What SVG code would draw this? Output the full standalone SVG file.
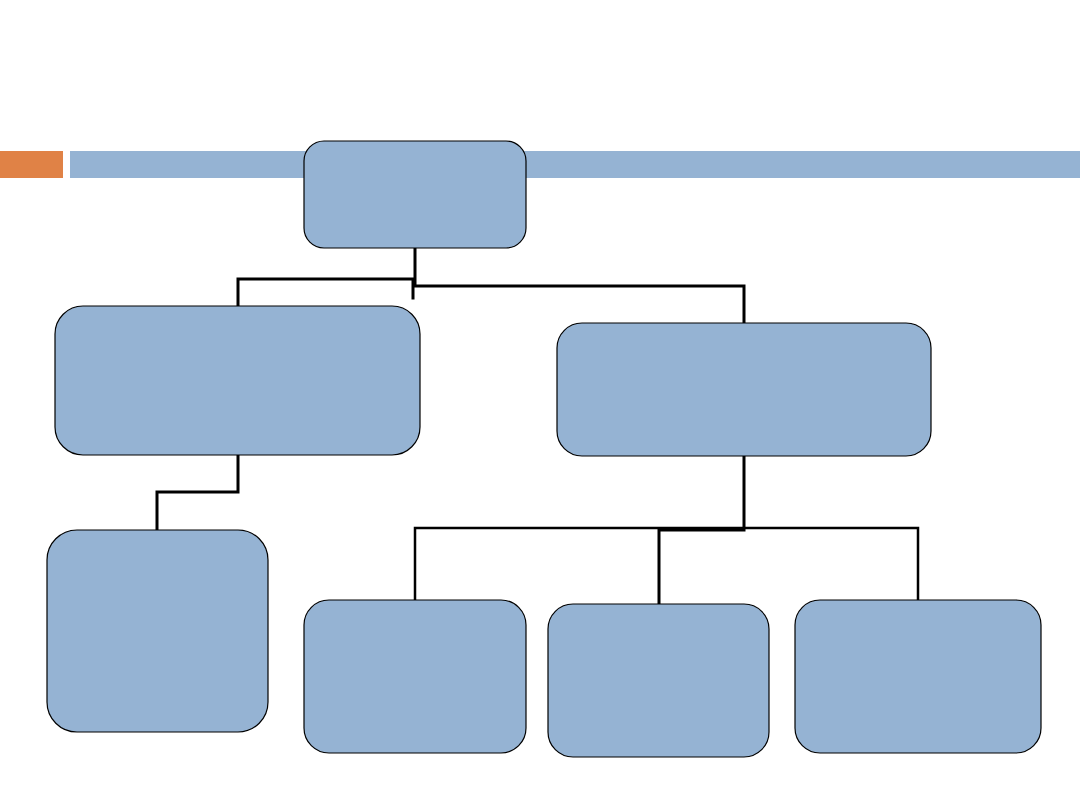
<svg xmlns="http://www.w3.org/2000/svg" width="1080" height="810" viewBox="0 0 1080 810">
<style>
.node{fill:#95b3d3;stroke:#000;stroke-width:1.2}
.c{fill:none;stroke:#000;stroke-width:3;stroke-linejoin:miter;stroke-linecap:square}
.t{fill:none;stroke:#000;stroke-width:2.5;stroke-linecap:square}
</style>
<rect width="1080" height="810" fill="#fff"/>
<g id="header">
<rect x="0" y="151" width="63" height="27" fill="#e08246"/>
<rect x="70" y="151" width="1010" height="27" fill="#95b3d3"/>
</g>
<g id="connectors">
<polyline class="c" points="415,249 415,286 744,286 744,322"/>
<polyline class="c" points="413,298 413,279 238,279 238,305"/>
<polyline class="c" points="238,456 238,492 157,492 157,529"/>
<polyline class="t" points="415,599 415,528 918,528 918,599"/>
<polyline class="c" points="744,457 744,530 659,530 659,603"/>
</g>
<g id="node-top"><rect class="node" x="304" y="141" width="222" height="107" rx="20"/></g>
<g id="node-left"><rect class="node" x="55" y="306" width="365" height="149" rx="28"/></g>
<g id="node-right"><rect class="node" x="557" y="323" width="374" height="133" rx="25"/></g>
<g id="node-bottom-left"><rect class="node" x="47" y="530" width="221" height="202" rx="30"/></g>
<g id="node-b1"><rect class="node" x="304" y="600" width="222" height="153" rx="25"/></g>
<g id="node-b2"><rect class="node" x="548" y="604" width="221" height="153" rx="25"/></g>
<g id="node-b3"><rect class="node" x="795" y="600" width="246" height="153" rx="25"/></g>
</svg>
